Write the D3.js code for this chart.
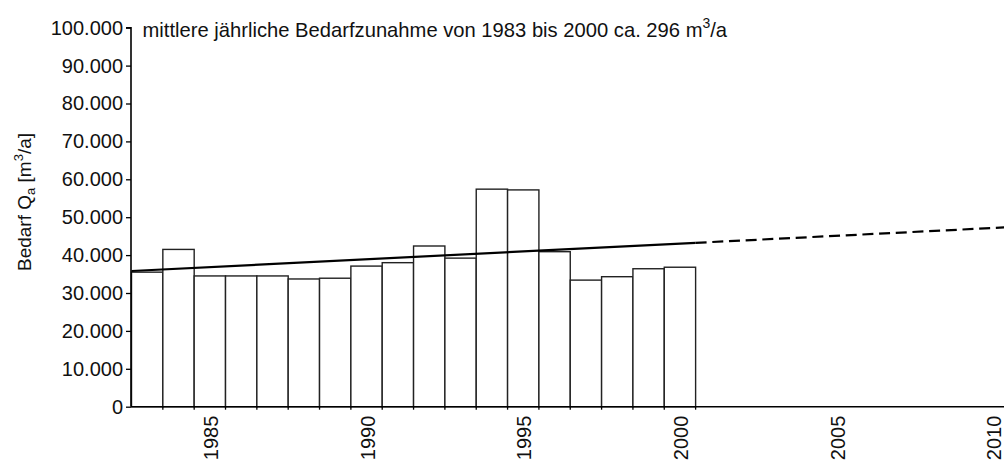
<!DOCTYPE html>
<html><head><meta charset="utf-8">
<script src="https://cdn.jsdelivr.net/npm/d3@7"></script>
<style>
body{margin:0;background:#fff;}
text{font-family:"Liberation Sans",Arial,sans-serif;fill:#111;}
</style></head>
<body><svg id="c" width="1004" height="464"></svg>
<script>
const years = d3.range(1983, 2011);
const barYears = [1983,1984,1985,1986,1987,1988,1989,1990,1991,1992,1993,1994,1995,1996,1997,1998,1999,2000];
const barValues = [35500,41500,34500,34500,34500,33700,33900,37100,38000,42400,39200,57400,57200,40900,33400,34300,36400,36800];
const yTicks = [0,10000,20000,30000,40000,50000,60000,70000,80000,90000,100000];
const xTickLabels = [1985,1990,1995,2000,2005,2010];
// trend line: year position (left edge of band) and value
const trendSolidYears = [1983, 2001];
const trendDashYears = [2001, 2011];
const trendStart = 35800, trendSlope = 413;

const svg = d3.select("#c");
const x = d3.scaleBand().domain(years).range([131.5, 1009]).paddingInner(0).paddingOuter(0);
const bw = x.bandwidth();
const xPos = t => x.range()[0] + (t - 1983) * bw;
const y = d3.scaleLinear().domain([0, 100000]).range([406.7, 27.7]);
const fmt = v => d3.format(",")(v).replace(/,/g, ".");

// bars
svg.append("g").selectAll("rect").data(barYears).join("rect")
  .attr("x", d => x(d)).attr("y", (d,i) => y(barValues[i]))
  .attr("width", bw).attr("height", (d,i) => y(0) - y(barValues[i]))
  .attr("fill", "#fff").attr("stroke", "#222").attr("stroke-width", 1.4);

// trend
const tv = t => trendStart + trendSlope * (t - 1983);
const line = d3.line().x(t => xPos(t)).y(t => y(tv(t)));
svg.append("path").attr("d", line(trendSolidYears)).attr("fill","none").attr("stroke","#000").attr("stroke-width",2.2);
svg.append("path").attr("d", line(trendDashYears)).attr("fill","none").attr("stroke","#000").attr("stroke-width",2.2).attr("stroke-dasharray","11,5.7");

// y axis
const ya = svg.append("g").attr("transform","translate(131,0)")
  .call(d3.axisLeft(y).tickValues(yTicks).tickFormat(fmt).tickSize(5).tickPadding(3));
ya.select(".domain").attr("stroke","#000").attr("stroke-width",1.6).attr("d","M-5,"+y(100000)+"H0V"+y(0));
ya.selectAll(".tick line").attr("stroke","#000").attr("stroke-width",1.3);
ya.selectAll(".tick text").style("font-size","20px").style("font-family","'Liberation Sans',Arial,sans-serif").attr("fill","#111");

// x axis line and ticks
svg.append("line").attr("x1",131).attr("x2",1004).attr("y1",y(0)).attr("y2",y(0)).attr("stroke","#000").attr("stroke-width",1.6);
svg.append("g").selectAll("line").data(barYears.slice(1).concat([2001])).join("line")
  .attr("x1", d => xPos(d)).attr("x2", d => xPos(d)).attr("y1", y(0)).attr("y2", y(0)+3)
  .attr("stroke","#000").attr("stroke-width",1.3);
svg.append("g").selectAll("text").data(xTickLabels).join("text")
  .attr("transform", d => `translate(${x(d)+bw/2+8},${y(0)+9}) rotate(-90)`)
  .attr("text-anchor","end").style("font-size","20px").text(d => d);

// title
const t = svg.append("text").attr("x",142.5).attr("y",37).style("font-size","20.2px");
t.append("tspan").text("mittlere jährliche Bedarfzunahme von 1983 bis 2000 ca. 296 m");
t.append("tspan").attr("dy",-9).style("font-size","14px").text("3");
t.append("tspan").attr("dy",9).text("/a");

// y label
const yl = svg.append("text").attr("transform","translate(31,202) rotate(-90)").attr("text-anchor","middle").style("font-size","19px");
yl.append("tspan").text("Bedarf Q");
yl.append("tspan").attr("dy",4).style("font-size","13px").text("a");
yl.append("tspan").attr("dy",-4).text(" [m");
yl.append("tspan").attr("dy",-8).style("font-size","13px").text("3");
yl.append("tspan").attr("dy",8).text("/a]");
</script></body></html>
